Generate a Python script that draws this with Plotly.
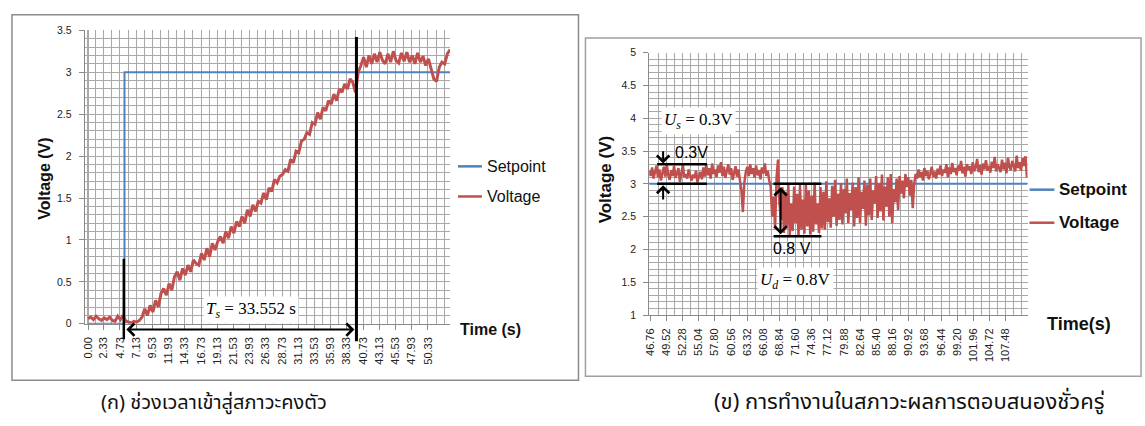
import plotly.graph_objects as go

W, H = 1145, 426

# ---------------- data: left chart (settling) ----------------
left_dt = 0.4
left_voltage = [
    0.06, 0.08, 0.05, 0.09, 0.06, 0.04, 0.07, 0.05, 0.08, 0.04,
    0.03, 0.09, 0.05, 0.10, 0.03, 0.02, 0.01, 0.03, 0.02, 0.04,
    0.08, 0.18, 0.10, 0.22, 0.14, 0.28, 0.20, 0.36, 0.42, 0.34,
    0.48, 0.40, 0.56, 0.62, 0.52, 0.66, 0.58, 0.70, 0.62, 0.76,
    0.72, 0.70, 0.84, 0.76, 0.90, 0.80, 0.96, 0.88, 0.98, 1.04,
    0.96, 1.10, 1.02, 1.16, 1.08, 1.22, 1.16, 1.28, 1.20, 1.36,
    1.28, 1.42, 1.34, 1.46, 1.44, 1.56, 1.48, 1.62, 1.58, 1.72,
    1.68, 1.76, 1.78, 1.84, 1.82, 1.96, 1.92, 2.06, 2.04, 2.18,
    2.20, 2.28, 2.26, 2.40, 2.38, 2.52, 2.44, 2.58, 2.54, 2.66,
    2.62, 2.74, 2.66, 2.80, 2.76, 2.86, 2.80, 2.92, 2.88, 2.76,
    3.00, 3.08, 3.18, 3.06, 3.20, 3.10, 3.22, 3.12, 3.24, 3.14,
    3.10, 3.22, 3.12, 3.25, 3.14, 3.11, 3.23, 3.13, 3.24, 3.12,
    3.20, 3.10, 3.23, 3.12, 3.19, 3.08, 3.16, 3.04, 2.92, 2.89,
    3.06, 3.12, 3.10, 3.22, 3.27,
]
left_time = [round(i * left_dt, 2) for i in range(len(left_voltage))]
left_setpoint_time = [0.0, 5.4, 5.4, 53.6]
left_setpoint_value = [0, 0, 3, 3]
left_tick_labels = ["0.00", "2.33", "4.73", "7.13", "9.53", "11.93", "14.33", "16.73",
                    "19.13", "21.53", "23.93", "26.33", "28.73", "31.13", "33.53",
                    "35.93", "38.33", "40.73", "43.13", "45.53", "47.93", "50.33"]
left_ts_start = 5.3
left_ts_end = 39.74

# ---------------- data: right chart (transient) ----------------
right_t0 = 46.6
right_dt = 0.25
right_voltage = [
    3.20, 3.12, 3.25, 3.08, 3.18, 3.28, 3.10, 3.22, 3.05, 3.19,
    3.26, 3.11, 3.30, 3.14, 3.06, 3.21, 3.12, 3.27, 3.09, 3.16,
    3.24, 3.03, 3.18, 3.29, 3.10, 3.15, 3.08, 3.22, 3.12, 3.05,
    3.14, 3.09, 3.20, 3.02, 3.12, 3.18, 3.07, 3.25, 3.11, 3.30,
    3.13, 3.24, 3.08, 3.31, 3.15, 3.22, 3.10, 3.28, 3.17, 3.33,
    3.12, 3.26, 3.09, 3.20, 3.30, 3.14, 3.24, 3.06, 3.19, 3.27,
    3.11, 3.22, 3.05, 2.90, 2.57, 3.02, 3.18, 3.26, 3.12, 3.30,
    3.15, 3.24, 3.09, 3.28, 3.13, 3.21, 3.07, 3.25, 3.16, 3.31,
    3.12, 3.20, 3.05, 2.95, 2.50, 2.80, 2.32, 3.10, 3.37, 2.70,
    2.45, 2.95, 2.25, 2.88, 2.35, 3.00, 2.22, 2.70, 2.28, 2.96,
    2.40, 2.85, 2.21, 2.98, 2.30, 2.76, 2.24, 3.00, 2.35, 2.90,
    2.23, 2.82, 2.27, 3.02, 2.38, 2.70, 2.25, 2.95, 2.32, 2.88,
    2.30, 3.04, 2.42, 2.78, 2.33, 2.97, 2.50, 3.06, 2.36, 2.85,
    2.45, 3.00, 2.38, 2.92, 2.55, 3.08, 2.40, 2.86, 2.60, 3.02,
    2.35, 2.95, 2.48, 3.10, 2.40, 2.88, 2.62, 3.05, 2.36, 2.98,
    2.52, 3.08, 2.45, 2.90, 2.70, 3.12, 2.48, 3.00, 2.58, 3.14,
    2.44, 2.96, 2.65, 3.10, 2.50, 3.15, 2.40, 2.92, 2.72, 3.08,
    2.60, 3.12, 2.85, 3.05, 2.78, 3.15, 2.95, 3.10, 2.82, 3.06,
    2.63, 3.00, 3.15, 3.08, 3.22, 3.10, 3.18, 3.05, 3.24, 3.12,
    3.20, 3.07, 3.16, 3.26, 3.10, 3.19, 3.08, 3.23, 3.14, 3.28,
    3.12, 3.22, 3.17, 3.30, 3.10, 3.25, 3.15, 3.32, 3.18, 3.24,
    3.13, 3.28, 3.20, 3.35, 3.16, 3.26, 3.11, 3.30, 3.21, 3.27,
    3.15, 3.33, 3.19, 3.25, 3.38, 3.18, 3.29, 3.14, 3.31, 3.22,
    3.36, 3.20, 3.27, 3.17, 3.34, 3.24, 3.41, 3.19, 3.30, 3.25,
    3.18, 3.37, 3.22, 3.32, 3.16, 3.40, 3.26, 3.21, 3.35, 3.28,
    3.19, 3.43, 3.24, 3.33, 3.20, 3.39, 3.27, 3.42, 3.10,
]
right_time = [round(right_t0 + i * right_dt, 2) for i in range(len(right_voltage))]
right_setpoint_time = [46.6, 111.2]
right_setpoint_value = [3, 3]
right_tick_labels = ["46.76", "49.52", "52.28", "55.04", "57.80", "60.56", "63.32", "66.08",
                     "68.84", "71.60", "74.36", "77.12", "79.88", "82.64", "85.40", "88.16",
                     "90.92", "93.68", "96.44", "99.20", "101.96", "104.72", "107.48"]
us_band = [3.0, 3.3]
us_t = [47.96, 56.46]
us_arrow_t = 48.98
ud_band = [3.0, 2.2]
ud_t = [67.85, 76.01]
ud_arrow_t = 69.04

# ---------------- layout geometry (pixels) ----------------
L_X0, L_X1, L_Y0, L_Y1 = 80, 447, 327, 25      # left plot area
R_X0, R_X1, R_Y0, R_Y1 = 647, 1027, 318, 48    # right plot area
L_XR = [-0.5, 53.6]
R_XR = [46.6, 111.2]

def px(x):
    return x / W

def py(y):
    return 1 - y / H

BLUE = "#4F81BD"
RED = "#C0504D"
GRID = "#a8a8a8"
FONT = "Liberation Sans, Arial, sans-serif"
SERIF = "Liberation Serif, Times New Roman, serif"
THAI = "Noto Sans Thai, Loma, Garuda, Norasi, Kinnari, Waree, DejaVu Sans, sans-serif"

fig = go.Figure()
fig.add_trace(go.Scatter(x=left_setpoint_time, y=left_setpoint_value, mode="lines",
                         line=dict(color=BLUE, width=2), xaxis="x", yaxis="y",
                         showlegend=False, name="Setpoint"))
fig.add_trace(go.Scatter(x=left_time, y=left_voltage, mode="lines",
                         line=dict(color=RED, width=3), xaxis="x", yaxis="y",
                         showlegend=False, name="Voltage"))
fig.add_trace(go.Scatter(x=right_setpoint_time, y=right_setpoint_value, mode="lines",
                         line=dict(color=BLUE, width=2), xaxis="x2", yaxis="y2",
                         showlegend=False, name="Setpoint"))
fig.add_trace(go.Scatter(x=right_time, y=right_voltage, mode="lines",
                         line=dict(color=RED, width=2.5), xaxis="x2", yaxis="y2",
                         showlegend=False, name="Voltage"))

tickfont = dict(family=FONT, size=11, color="#222")
common_x = dict(showline=True, linecolor="#8a8a8a", linewidth=1, showgrid=True,
                gridcolor=GRID, gridwidth=1, ticks="outside", ticklen=5,
                tickcolor="#8a8a8a", tickangle=-90, tickfont=tickfont, zeroline=False,
                ticklabelstandoff=3, fixedrange=True)
common_y = dict(showline=True, linecolor="#8a8a8a", linewidth=1, showgrid=True,
                gridcolor=GRID, gridwidth=1, ticks="outside", ticklen=5,
                tickcolor="#8a8a8a", tickfont=dict(family=FONT, size=10.5, color="#222"),
                zeroline=False, dtick=0.5, tickmode="linear", ticklabelstandoff=5,
                minor=dict(dtick=0.1, showgrid=True, gridcolor=GRID, gridwidth=1))

fig.update_layout(
    width=W, height=H, autosize=False,
    margin=dict(l=0, r=0, t=0, b=0),
    paper_bgcolor="white", plot_bgcolor="white",
    xaxis=dict(domain=[px(L_X0), px(L_X1)], range=L_XR, tickmode="array",
               tickvals=[float(v) for v in left_tick_labels], ticktext=left_tick_labels,
               minor=dict(tick0=2.33, dtick=1.2, showgrid=True, gridcolor=GRID, gridwidth=1),
               anchor="y", **common_x),
    yaxis=dict(domain=[py(L_Y0), py(L_Y1)], range=[0, 3.5], tick0=0, anchor="x", **common_y),
    xaxis2=dict(domain=[px(R_X0), px(R_X1)], range=R_XR, tickmode="array",
                tickvals=[float(v) for v in right_tick_labels], ticktext=right_tick_labels,
                minor=dict(tick0=46.76, dtick=1.38, showgrid=True, gridcolor=GRID, gridwidth=1),
                anchor="y2", **common_x),
    yaxis2=dict(domain=[py(R_Y0), py(R_Y1)], range=[1, 5], tick0=1, anchor="x2", **common_y),
)

shapes = []
annots = []

# outer frames
shapes.append(dict(type="rect", xref="paper", yref="paper", x0=px(7), x1=px(576),
                   y0=py(385), y1=py(9), line=dict(color="#8c8c8c", width=1.5)))
shapes.append(dict(type="rect", xref="paper", yref="paper", x0=px(583), x1=px(1141),
                   y0=py(381), y1=py(33), line=dict(color="#a0a0a0", width=1.5)))

# ---- left annotations ----
shapes.append(dict(type="line", xref="x", yref="paper", x0=left_ts_start, x1=left_ts_start,
                   y0=py(343), y1=py(260), line=dict(color="black", width=2.5)))
shapes.append(dict(type="line", xref="x", yref="paper", x0=left_ts_end, x1=left_ts_end,
                   y0=py(345), y1=py(32), line=dict(color="black", width=3)))

def lx_pix(t):
    return L_X0 + (t - L_XR[0]) * (L_X1 - L_X0) / (L_XR[1] - L_XR[0])

x_head = lx_pix(left_ts_end) - 2
x_tail = lx_pix(left_ts_start) + 2
annots.append(dict(xref="paper", yref="paper", x=px(x_head), y=py(333), ax=-(x_head - x_tail), ay=0,
                   axref="pixel", ayref="pixel", text="", showarrow=True, arrowhead=4,
                   arrowside="end+start", arrowsize=1.2, arrowwidth=2, arrowcolor="black",
                   standoff=0, startstandoff=0))
annots.append(dict(xref="paper", yref="paper", x=px(247), y=py(313),
                   text="<i>T</i><sub><i>s</i></sub> = 33.552 s", showarrow=False,
                   font=dict(family=SERIF, size=17, color="black"), bgcolor="white",
                   borderpad=2, xanchor="center", yanchor="middle"))

# ---- right annotations ----
for v in us_band:
    shapes.append(dict(type="line", xref="x2", yref="y2", x0=us_t[0], x1=us_t[1], y0=v, y1=v,
                       line=dict(color="black", width=2.5)))
for v in ud_band:
    shapes.append(dict(type="line", xref="x2", yref="y2", x0=ud_t[0], x1=ud_t[1], y0=v, y1=v,
                       line=dict(color="black", width=2.5)))
annots.append(dict(xref="x2", yref="y2", x=us_arrow_t, y=us_band[1] + 0.01, axref="x2", ayref="y2",
                   ax=us_arrow_t, ay=3.52, text="", showarrow=True, arrowhead=4, arrowsize=1.2,
                   arrowwidth=2, arrowcolor="black", standoff=0))
annots.append(dict(xref="x2", yref="y2", x=us_arrow_t, y=us_band[0] - 0.02, axref="x2", ayref="y2",
                   ax=us_arrow_t, ay=2.74, text="", showarrow=True, arrowhead=4, arrowsize=1.2,
                   arrowwidth=2, arrowcolor="black", standoff=0))
annots.append(dict(xref="x2", yref="y2", x=ud_arrow_t, y=ud_band[1] + 0.03, axref="x2", ayref="y2",
                   ax=ud_arrow_t, ay=ud_band[0] - 0.03, text="", showarrow=True, arrowhead=4,
                   arrowside="end+start", arrowsize=1.2, arrowwidth=2, arrowcolor="black",
                   standoff=0, startstandoff=0))
annots.append(dict(xref="paper", yref="paper", x=px(690), y=py(151), text="0.3V",
                   showarrow=False, font=dict(family=FONT, size=16, color="black"),
                   xanchor="center", yanchor="middle"))
annots.append(dict(xref="paper", yref="paper", x=px(790), y=py(250), text="0.8 V",
                   showarrow=False, font=dict(family=FONT, size=16, color="black"),
                   xanchor="center", yanchor="middle"))
annots.append(dict(xref="paper", yref="paper", x=px(697), y=py(118),
                   text="<i>U</i><sub><i>s</i></sub> = 0.3V", showarrow=False,
                   font=dict(family=SERIF, size=17, color="black"), bgcolor="white",
                   borderpad=2, xanchor="center", yanchor="middle"))
annots.append(dict(xref="paper", yref="paper", x=px(794), y=py(283),
                   text="<i>U</i><sub><i>d</i></sub> = 0.8V", showarrow=False,
                   font=dict(family=SERIF, size=17, color="black"), bgcolor="white",
                   borderpad=2, xanchor="center", yanchor="middle"))

# ---- axis titles ----
annots.append(dict(xref="paper", yref="paper", x=px(40), y=py(178), text="<b>Voltage (V)</b>",
                   textangle=-90, showarrow=False, font=dict(family=FONT, size=16, color="#111"),
                   xanchor="center", yanchor="middle"))
annots.append(dict(xref="paper", yref="paper", x=px(604), y=py(178), text="<b>Voltage (V)</b>",
                   textangle=-90, showarrow=False, font=dict(family=FONT, size=17, color="#111"),
                   xanchor="center", yanchor="middle"))
annots.append(dict(xref="paper", yref="paper", x=px(455), y=py(333), text="<b>Time (s)</b>",
                   showarrow=False, font=dict(family=FONT, size=16, color="#111"),
                   xanchor="left", yanchor="middle"))
annots.append(dict(xref="paper", yref="paper", x=px(1045), y=py(327), text="<b>Time(s)</b>",
                   showarrow=False, font=dict(family=FONT, size=18, color="#111"),
                   xanchor="left", yanchor="middle"))

# ---- legends (manual) ----
def legend_item(x0, x1, y, color, label, size, bold):
    shapes.append(dict(type="line", xref="paper", yref="paper", x0=px(x0), x1=px(x1),
                       y0=py(y), y1=py(y), line=dict(color=color, width=2.5)))
    txt = f"<b>{label}</b>" if bold else label
    annots.append(dict(xref="paper", yref="paper", x=px(x1 + 3), y=py(y), text=txt,
                       showarrow=False, font=dict(family=FONT, size=size, color="#111"),
                       xanchor="left", yanchor="middle"))

legend_item(455, 479, 165, BLUE, "Setpoint", 16, False)
legend_item(455, 479, 196, RED, "Voltage", 16, False)
legend_item(1029, 1054, 189, BLUE, "Setpoint", 17, True)
legend_item(1029, 1054, 223, RED, "Voltage", 17, True)

# ---- captions ----
annots.append(dict(xref="paper", yref="paper", x=px(210), y=py(408),
                   text="(ก) ช่วงเวลาเข้าสู่สภาวะคงตัว", showarrow=False,
                   font=dict(family=THAI, size=20, color="#111"), xanchor="center", yanchor="middle"))
annots.append(dict(xref="paper", yref="paper", x=px(908), y=py(408),
                   text="(ข) การทำงานในสภาวะผลการตอบสนองชั่วครู่", showarrow=False,
                   font=dict(family=THAI, size=22, color="#111"), xanchor="center", yanchor="middle"))

fig.update_layout(shapes=shapes, annotations=annots)
fig.write_html("out.html")
